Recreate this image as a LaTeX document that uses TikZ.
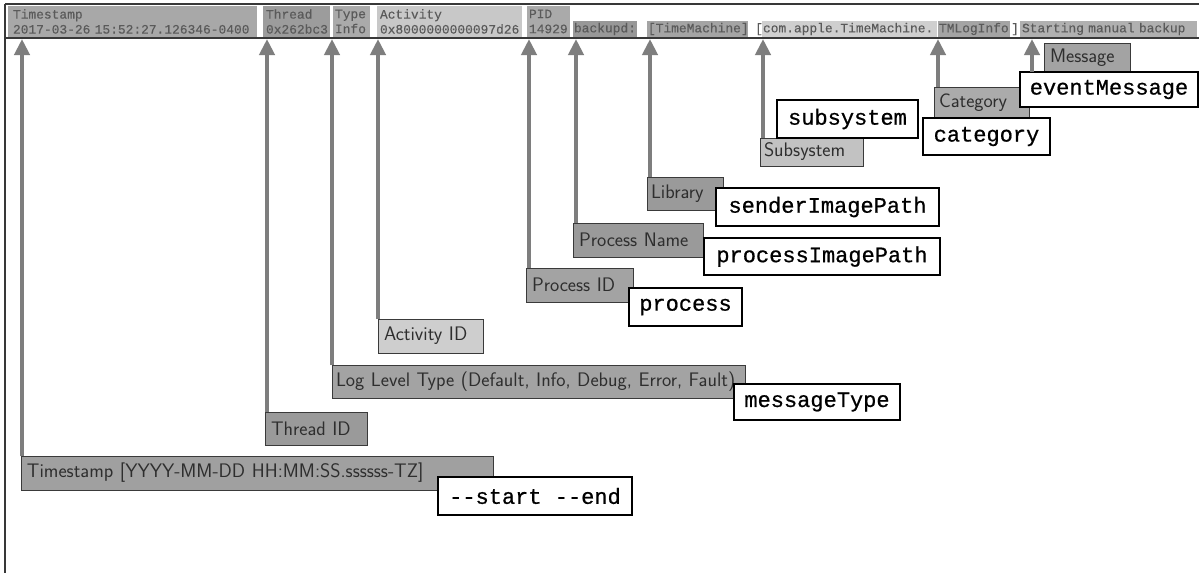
\documentclass[tikz,border=0pt]{standalone}
\usepackage{fontspec}
\setmainfont{PT Sans}
\setmonofont{Liberation Mono}
\newfontfamily\fldfont{Liberation Mono}[FakeBold=0.7]
\newfontfamily\hdrfont{Liberation Mono}[FakeBold=0.3]
\usetikzlibrary{arrows.meta}
\definecolor{arrowgray}{HTML}{7E7E7E}
\definecolor{segtext}{HTML}{5A5A5A}
\definecolor{lbltext}{HTML}{2E2E2E}
\definecolor{lblborder}{HTML}{3A3A3A}
\definecolor{frame}{HTML}{383838}
\begin{document}
\begin{tikzpicture}[x=1pt,y=-1pt,
  seg/.style={anchor=north west, inner xsep=3pt, inner ysep=0pt, outer sep=0pt,
    text=segtext, font=\hdrfont\fontsize{12.9}{15}\selectfont, align=left},
  brk/.style={anchor=north west, inner sep=0pt, text=segtext,
    font=\hdrfont\fontsize{12.9}{15}\selectfont, minimum height=16pt},
  lbl/.style={anchor=north west, inner xsep=6pt, inner ysep=0pt, outer sep=0pt, draw=lblborder,
    line width=1pt, text=lbltext, font=\sffamily\fontsize{19.6}{22}\selectfont, align=left},
  fld/.style={anchor=north west, inner sep=0pt, outer sep=0pt, draw=black,
    line width=1.3pt, fill=white, font=\fldfont\fontsize{22}{24}\selectfont},
  arr/.style={draw=arrowgray, line width=4.5pt, -{Triangle[width=15pt,length=16pt]}}
]
\useasboundingbox (0,0) rectangle (1199,573);
\fill[white] (0,0) rectangle (1199,573);

% frame
\coordinate (ftl) at (5,4);
\coordinate (ftr) at (1199,4);
\coordinate (fbl) at (5,573);
\coordinate (hbl) at (5,38);
\coordinate (hbr) at (1199,38);

% header segments
\node[seg, inner xsep=5pt, fill={rgb,255:red,168;green,168;blue,168}, text width=239pt, minimum height=31pt] (tsSeg) at (8,6)
  {\mbox{Timestamp}\\\mbox{2017-03-26 15:52:27.126346-0400}};
\node[seg, fill={rgb,255:red,156;green,156;blue,156}, text width=61pt, minimum height=31pt] (thSeg) at (263,6)
  {\mbox{Thread}\\\mbox{0x262bc3}};
\node[seg, inner xsep=2pt, fill={rgb,255:red,170;green,170;blue,170}, text width=33pt, minimum height=31pt] (tySeg) at (333,6)
  {\mbox{Type}\\\mbox{Info}};
\node[seg, fill={rgb,255:red,200;green,200;blue,200}, text width=139pt, minimum height=31pt] (acSeg) at (377,6)
  {\mbox{Activity}\\\mbox{0x8000000000097d26}};
\node[seg, inner xsep=2pt, fill={rgb,255:red,170;green,170;blue,170}, text width=39pt, minimum height=31pt] (pidSeg) at (527,6)
  {\mbox{PID}\\\mbox{14929}};
\node[seg, inner xsep=1pt, fill={rgb,255:red,152;green,152;blue,152}, text width=62pt, minimum height=16pt] (bkSeg) at (573,21)
  {\mbox{backupd:}};
\node[seg, inner xsep=1pt, fill={rgb,255:red,164;green,164;blue,164}, text width=99pt, minimum height=16pt] (tmSeg) at (647,21)
  {\mbox{[TimeMachine]}};
\node[brk] (lbr) at (755,21) {[};
\node[seg, inner xsep=1pt, fill={rgb,255:red,207;green,207;blue,207}, text width=173pt, minimum height=16pt] (ssSeg) at (762,21)
  {\mbox{com.apple.TimeMachine.}};
\node[seg, inner xsep=1pt, fill={rgb,255:red,164;green,164;blue,164}, text width=70pt, minimum height=16pt] (ctSeg) at (938,21)
  {\mbox{TMLogInfo}};
\node[brk] (rbr) at (1011,21) {]};
\node[seg, inner xsep=2pt, fill={rgb,255:red,176;green,176;blue,176}, text width=173pt, minimum height=16pt] (msSeg) at (1020,21)
  {\mbox{Starting manual backup}};

\draw[frame, line width=2pt] (ftl) -- (ftr);
\draw[frame, line width=1.5pt] (ftl) -- (fbl);
\draw[frame, line width=2pt] (hbl) -- (hbr);

% arrow x positions
\coordinate (x1) at (22,39);
\coordinate (x2) at (267,39);
\coordinate (x3) at (332,39);
\coordinate (x4) at (378,39);
\coordinate (x5) at (529,39);
\coordinate (x6) at (576,39);
\coordinate (x7) at (650,39);
\coordinate (x8) at (763,39);
\coordinate (x9) at (938,39);
\coordinate (x10) at (1032,39);

% gray labels
\node[lbl, fill={rgb,255:red,160;green,160;blue,160}, text width=460pt, minimum height=34pt] (tsLabel) at (21,456)
  {\mbox{Timestamp [YYYY-MM-DD HH:MM:SS.ssssss-TZ]}};
\node[lbl, fill={rgb,255:red,154;green,154;blue,154}, text width=90pt, minimum height=33pt] (threadID) at (265,412)
  {\mbox{Thread ID}};
\node[lbl, inner xsep=4pt, fill={rgb,255:red,163;green,163;blue,163}, text width=405pt, minimum height=33pt] (logLevel) at (332,365)
  {\mbox{Log Level Type (Default, Info, Debug, Error, Fault)}};
\node[lbl, fill={rgb,255:red,206;green,206;blue,206}, text width=93pt, minimum height=34pt] (activityID) at (378,319)
  {\mbox{Activity ID}};
\node[lbl, fill={rgb,255:red,163;green,163;blue,163}, text width=95pt, minimum height=34pt] (processID) at (526,268)
  {\mbox{Process ID}};
\node[lbl, fill={rgb,255:red,154;green,154;blue,154}, text width=118pt, minimum height=34pt] (processName) at (573,223)
  {\mbox{Process Name}};
\node[lbl, inner xsep=4pt, fill={rgb,255:red,154;green,154;blue,154}, text width=68pt, minimum height=33pt] (library) at (647,177)
  {\mbox{Library}};
\node[lbl, inner xsep=4pt, fill={rgb,255:red,194;green,194;blue,194}, text width=95pt, minimum height=28pt] (subsystemG) at (760,138)
  {\mbox{Subsystem}};
\node[lbl, inner xsep=5pt, fill={rgb,255:red,171;green,171;blue,171}, text width=85pt, minimum height=31pt] (categoryG) at (934,87)
  {\mbox{Category}};
\node[lbl, fill={rgb,255:red,163;green,163;blue,163}, text width=74pt, minimum height=29pt] (messageG) at (1044,43)
  {\mbox{Message}};

% arrows
\draw[arr] (tsLabel.north west -| x1) -- (x1);
\draw[arr] (threadID.north west -| x2) -- (x2);
\draw[arr] (logLevel.north west -| x3) -- (x3);
\draw[arr] (activityID.north west -| x4) -- (x4);
\draw[arr] (processID.north west -| x5) -- (x5);
\draw[arr] (processName.north west -| x6) -- (x6);
\draw[arr] (library.north west -| x7) -- (x7);
\draw[arr] (subsystemG.north west -| x8) -- (x8);
\draw[arr] (categoryG.north west -| x9) -- (x9);

% white field boxes
\node[fld, minimum width=194pt, minimum height=38pt] (startEnd) at (438,477) {--start --end};
\node[fld, minimum width=166pt, minimum height=36pt] (messageType) at (734,384) {messageType};
\node[fld, minimum width=113pt, minimum height=38pt] (process) at (629,288) {process};
\node[fld, minimum width=236pt, minimum height=37pt] (processImagePath) at (704,238) {processImagePath};
\node[fld, minimum width=223pt, minimum height=38pt] (senderImagePath) at (716,188) {senderImagePath};
\node[fld, minimum width=141pt, minimum height=38pt] (subsystemW) at (777,100) {subsystem};
\node[fld, minimum width=127pt, minimum height=37pt] (categoryW) at (923,118) {category};
\node[fld, minimum width=178pt, minimum height=35pt] (eventMessage) at (1020,72) {eventMessage};

\draw[arr] (eventMessage.north west -| x10) -- (x10);
\end{tikzpicture}
\end{document}
